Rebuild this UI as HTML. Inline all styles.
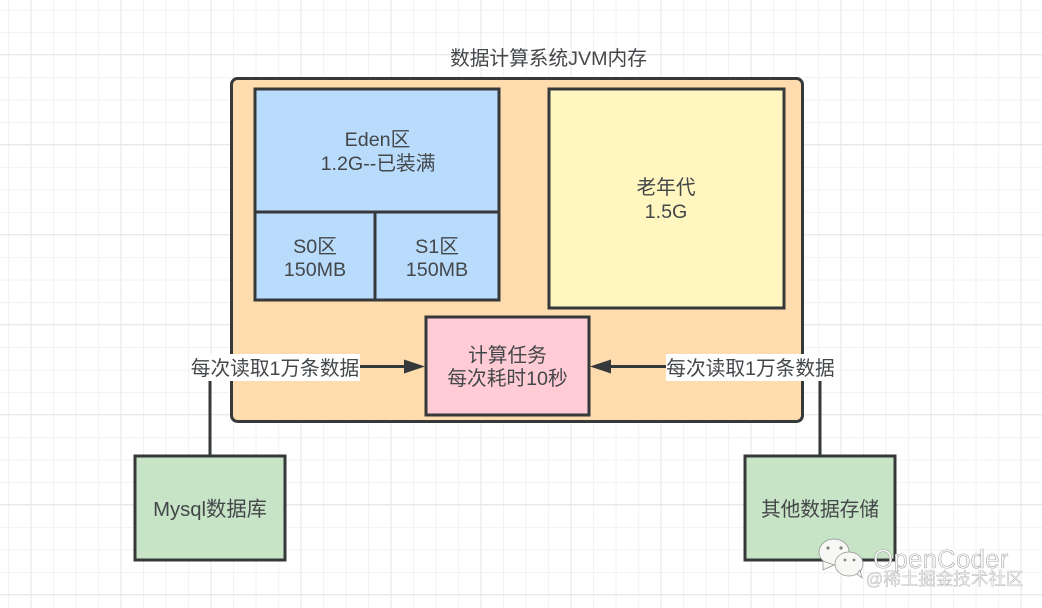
<!DOCTYPE html>
<html><head><meta charset="utf-8">
<style>
html,body{margin:0;padding:0;background:#fff}
svg{display:block;filter:blur(.35px)}
text{font-family:"Liberation Sans","Noto Sans CJK SC",sans-serif;fill:#44474a;font-size:19.7px;text-anchor:middle}
</style></head><body>
<svg width="1042" height="608" viewBox="0 0 1042 608" xmlns="http://www.w3.org/2000/svg">
<defs>
<pattern id="g" x="8" y="9.5" width="22.5" height="22.5" patternUnits="userSpaceOnUse"><path d="M0.5 0V22.5M0 0.5H22.5" stroke="#f3f3f3" stroke-width="1.2" fill="none"/></pattern>
<pattern id="G" x="30.5" y="54" width="90" height="90" patternUnits="userSpaceOnUse"><path d="M0.5 0V90M0 0.5H90" stroke="#e9e9e9" stroke-width="1.2" fill="none"/></pattern>
</defs>
<rect width="1042" height="608" fill="url(#g)"/>
<rect width="1042" height="608" fill="url(#G)"/>
<g stroke="#36393a" stroke-width="3">
<rect x="231.5" y="78.5" width="571" height="343" rx="6" fill="#ffdcae"/>
<rect x="255" y="89" width="244" height="123" fill="#b9dcfc"/>
<rect x="255" y="212" width="120" height="88" fill="#b9dcfc"/>
<rect x="375" y="212" width="124" height="88" fill="#b9dcfc"/>
<rect x="549" y="89" width="235" height="219" fill="#fff6c0"/>
<rect x="426" y="317" width="163" height="98" fill="#ffccd5"/>
<rect x="135" y="456" width="150" height="104" fill="#c7e4c6"/>
<rect x="745" y="456" width="150" height="104" fill="#c7e4c6"/>
<path d="M210 380V456M820 380V456M358 366.500H405M610 366.500H668" fill="none"/>
</g>
<path d="M404 359.500L425 366.500L404 373.500Z M611 359.500L590 366.500L611 373.500Z" fill="#36393a"/>
<rect x="191" y="354" width="169" height="27" fill="#fff"/>
<rect x="666" y="354" width="169" height="27" fill="#fff"/>
<text x="548.500" y="65">数据计算系统JVM内存</text>
<text x="377.500" y="146">Eden区</text>
<text x="378" y="170">1.2G--已装满</text>
<text x="315" y="253">S0区</text>
<text x="315" y="276">150MB</text>
<text x="437" y="253">S1区</text>
<text x="437" y="276">150MB</text>
<text x="666" y="194">老年代</text>
<text x="666" y="218">1.5G</text>
<text x="507.500" y="362">计算任务</text>
<text x="507.500" y="385">每次耗时10秒</text>
<text x="275" y="375">每次读取1万条数据</text>
<text x="750.500" y="375">每次读取1万条数据</text>
<text x="210" y="516" style="font-size:20.300px">Mysql数据库</text>
<text x="820" y="516">其他数据存储</text>
<g fill="#f7f8f6" stroke="#8a8f8a" stroke-width="0.7">
<ellipse cx="834" cy="552" rx="15" ry="13"/>
<path d="M823 561L823 570L834 565Z"/>
<ellipse cx="849" cy="564" rx="14" ry="12"/>
<path d="M857 574L862 578L860 570Z"/>
</g>
<g fill="#7d827e"><circle cx="828" cy="548" r="1.600"/><circle cx="841" cy="548" r="1.600"/><circle cx="845" cy="560" r="1.400"/><circle cx="854" cy="560" r="1.400"/></g>
<text x="941" y="568" style="font-size:25.500px;fill:#f5f6f4;stroke:#7a7e7b;stroke-width:.35;letter-spacing:.4px">OpenCoder</text>
<text x="944.500" y="585" style="font-size:17.500px;fill:#eef0ee;stroke:#989c9a;stroke-width:.3">@稀土掘金技术社区</text>
</svg>
</body></html>
